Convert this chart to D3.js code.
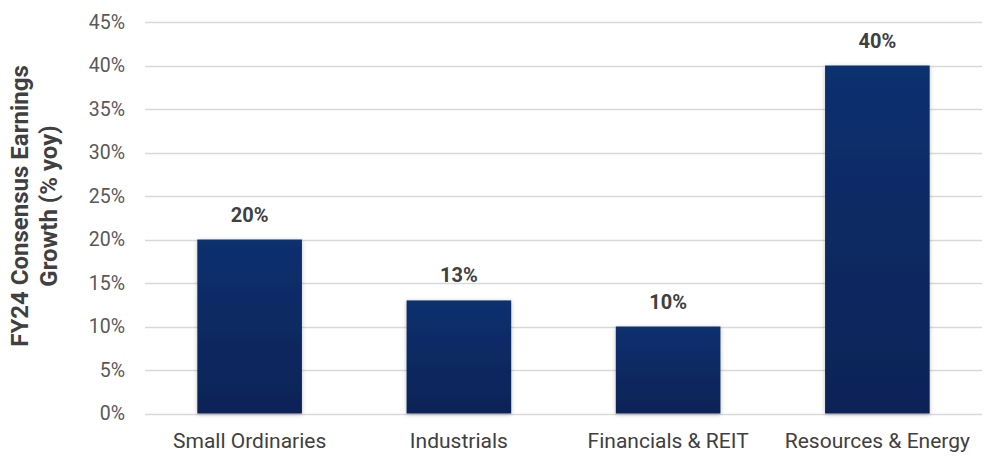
<!DOCTYPE html>
<html><head><meta charset="utf-8">
<script src="https://cdn.jsdelivr.net/npm/d3@7"></script>
<style>body{margin:0;background:#fff;}svg{display:block;font-family:Roboto,"Noto Sans",sans-serif;}</style>
</head><body>
<svg id="c" width="993" height="463"></svg>
<script>
const categories = ["Small Ordinaries", "Industrials", "Financials & REIT", "Resources & Energy"];
const values = [20, 13, 10, 40];
const yTicks = [0, 5, 10, 15, 20, 25, 30, 35, 40, 45];
const yTitle = ["FY24 Consensus Earnings", "Growth (% yoy)"];

const svg = d3.select("#c");
const pLeft = 145, pRight = 982, pTop = 22, pBottom = 413.5;

const x = d3.scaleBand().domain(categories).range([pLeft, pRight]).paddingInner(0.5).paddingOuter(0.25);
const y = d3.scaleLinear().domain([0, 45]).range([pBottom, pTop]);

const defs = svg.append("defs");
const g = defs.append("linearGradient").attr("id", "barGrad").attr("x1", 0).attr("y1", 0).attr("x2", 0).attr("y2", 1);
g.append("stop").attr("offset", "0%").attr("stop-color", "#11306f");
g.append("stop").attr("offset", "100%").attr("stop-color", "#0a2356");
const f = defs.append("filter").attr("id", "sh").attr("x", "-20%").attr("y", "-20%").attr("width", "140%").attr("height", "140%");
f.append("feDropShadow").attr("dx", 0).attr("dy", 1).attr("stdDeviation", 2).attr("flood-color", "#000").attr("flood-opacity", 0.25);

// gridlines
svg.append("g").selectAll("line").data(yTicks).join("line")
  .attr("x1", pLeft).attr("x2", pRight)
  .attr("y1", d => Math.round(y(d)) + 0.5).attr("y2", d => Math.round(y(d)) + 0.5)
  .attr("stroke", "#d9d9d9").attr("stroke-width", 1.3);

// y axis labels
const yAxis = d3.axisLeft(y).tickValues(yTicks).tickFormat(d => d + "%").tickSize(0).tickPadding(0);
const ya = svg.append("g").attr("transform", `translate(125,0)`).call(yAxis);
ya.select(".domain").remove();
ya.selectAll("text").attr("fill", "#595959").style("font-size", "19.5px").style("font-family", "Roboto");

// bars
svg.append("g").selectAll("rect").data(values).join("rect")
  .attr("x", (d, i) => x(categories[i]))
  .attr("width", x.bandwidth())
  .attr("y", d => y(d))
  .attr("height", d => y(0) - y(d))
  .attr("fill", "url(#barGrad)")
  .attr("filter", "url(#sh)");

// value labels
svg.append("g").selectAll("text").data(values).join("text")
  .attr("x", (d, i) => x(categories[i]) + x.bandwidth() / 2)
  .attr("y", d => y(d) - 18)
  .attr("text-anchor", "middle")
  .attr("fill", "#404040").style("font-size", "20px").style("font-weight", "bold")
  .text(d => d + "%");

// x axis labels
const xAxis = d3.axisBottom(x).tickSize(0).tickPadding(0);
const xa = svg.append("g").attr("transform", `translate(0,${pBottom})`).call(xAxis);
xa.select(".domain").remove();
xa.selectAll("text").attr("y", 34.5).attr("dy", 0)
  .attr("fill", "#404040").style("font-size", "21px").style("font-family", "Roboto");

// y title
const t = svg.append("text").attr("transform", "translate(0,206) rotate(-90)")
  .attr("text-anchor", "middle").attr("fill", "#404040")
  .style("font-size", "24px").style("font-weight", "bold");
t.selectAll("tspan").data(yTitle).join("tspan")
  .attr("x", 0).attr("y", (d, i) => 28 + i * 29).text(d => d);
</script>
</body></html>
